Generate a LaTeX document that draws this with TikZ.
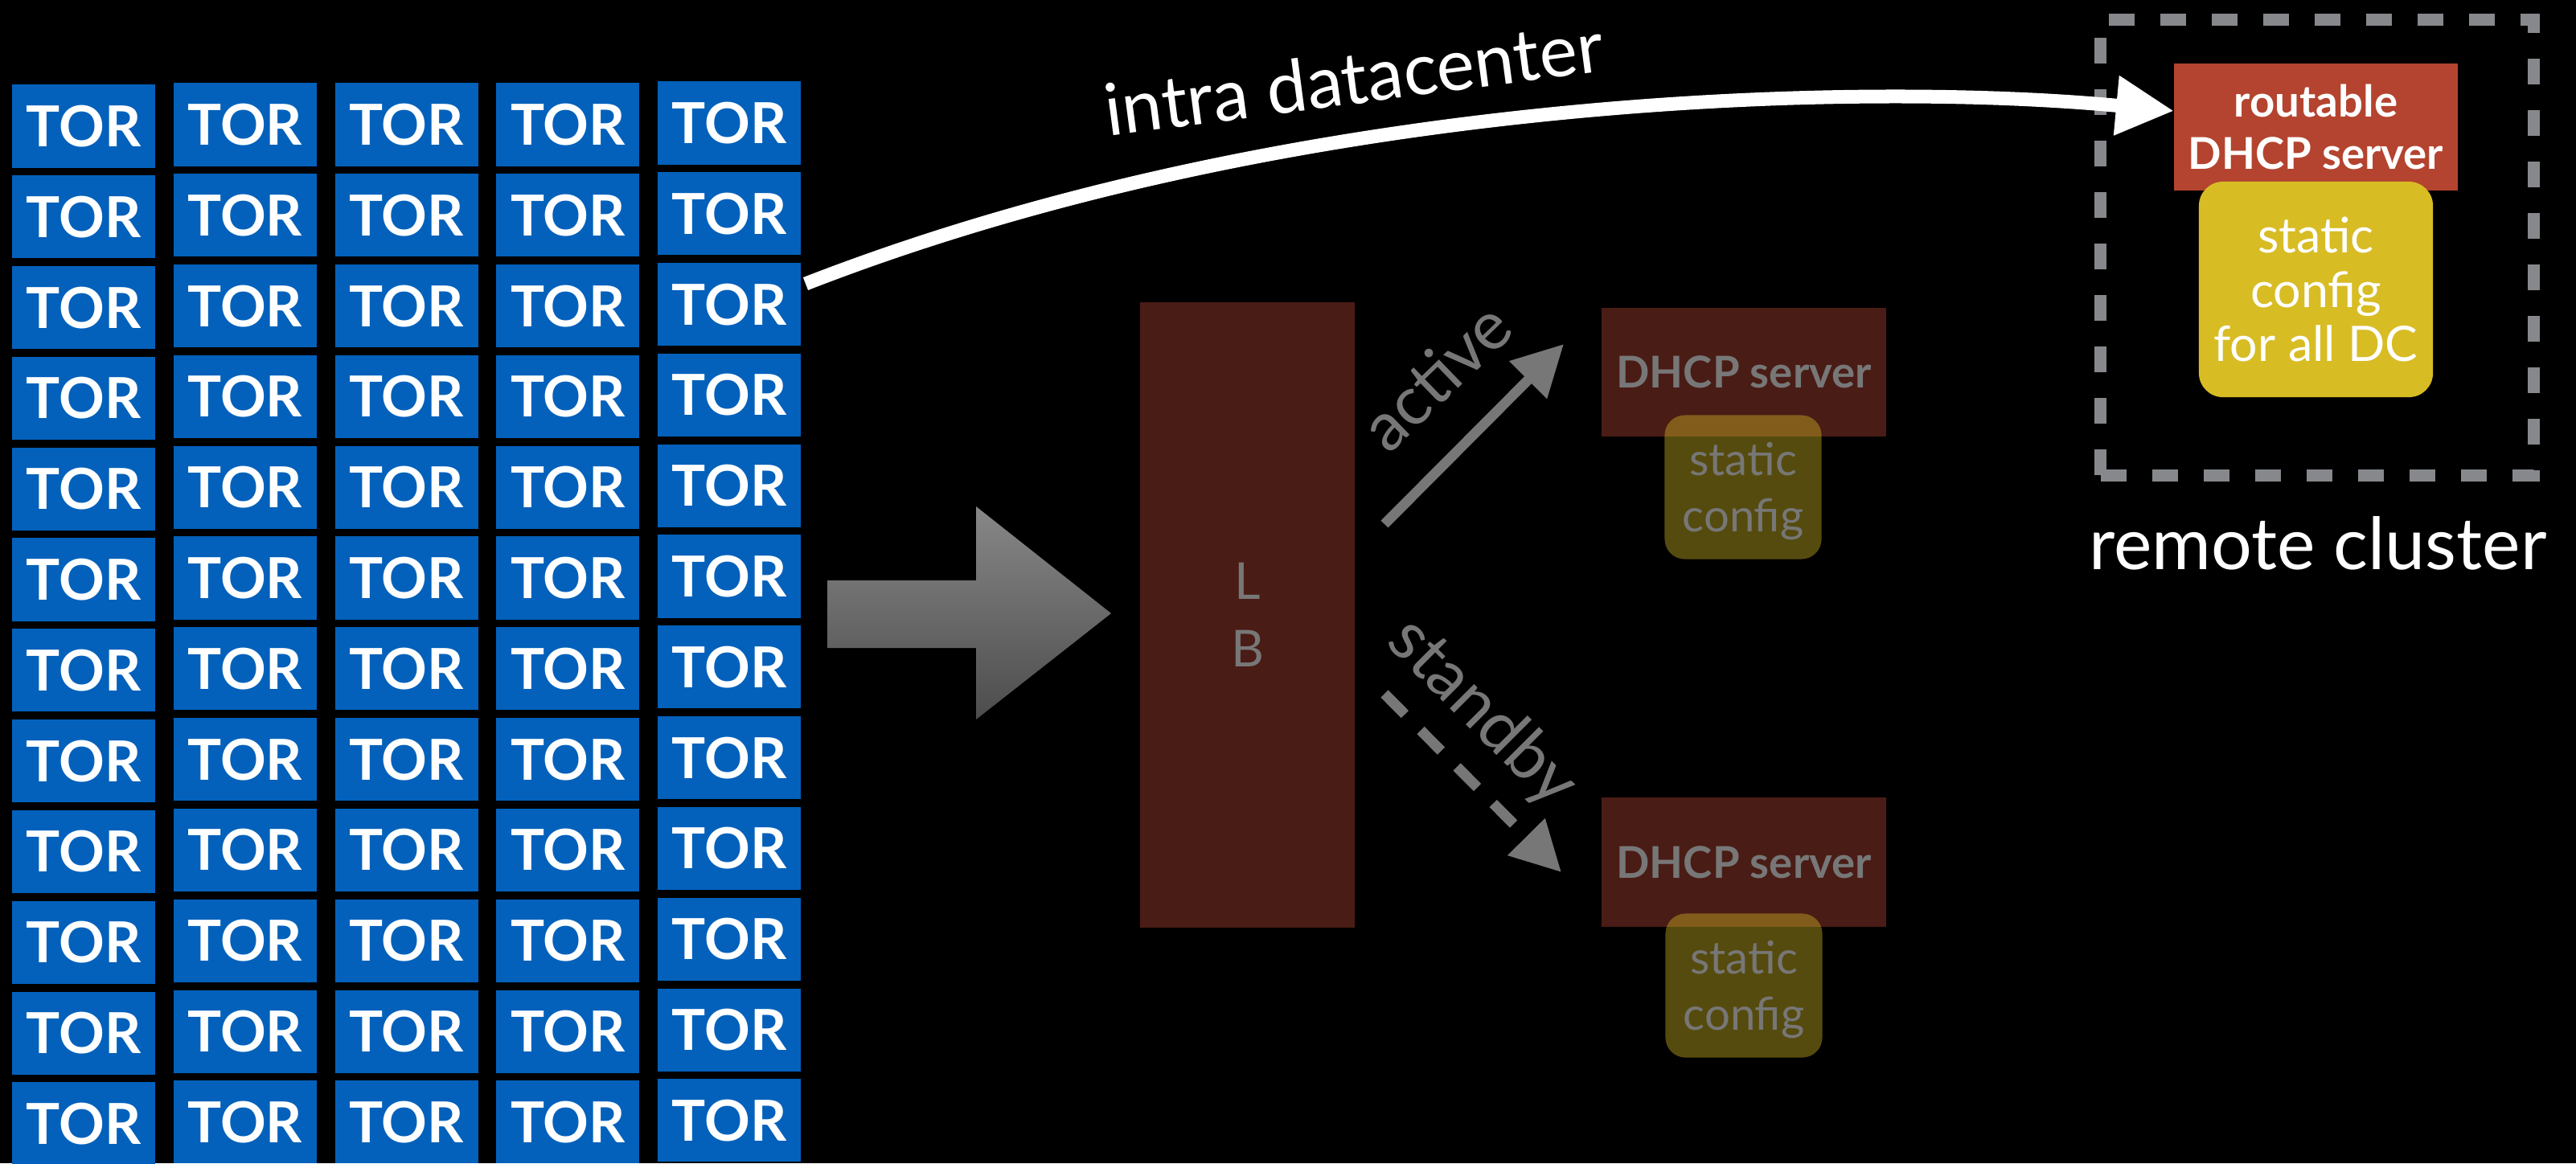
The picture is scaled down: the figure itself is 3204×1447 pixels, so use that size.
\documentclass[tikz,border=0pt]{standalone}
\usepackage{fontspec}
\setmainfont{Lato}
\usetikzlibrary{arrows.meta}
\definecolor{torblue}{HTML}{0361BB}
\definecolor{dimred}{HTML}{4A1C16}
\definecolor{brick}{HTML}{B4442F}
\definecolor{cfgyellow}{HTML}{D8BC24}
\definecolor{dimtext}{HTML}{777777}
\definecolor{dashgray}{HTML}{86888C}
\begin{document}
\begin{tikzpicture}[x=0.01cm,y=-0.01cm,
  torbox/.style={fill=torblue, text=white, font=\bfseries\fontsize{20}{24}\selectfont,
    minimum width=17.8mm, minimum height=10.3mm, inner sep=0pt},
  dimserver/.style={fill=dimred, minimum width=35.4mm, minimum height=16mm, inner sep=0pt,
    text=dimtext, font=\bfseries\fontsize{15.5}{18}\selectfont},
  dimcfg/.style={fill=cfgyellow, fill opacity=0.4, rounded corners=2.5mm,
    minimum width=19.5mm, minimum height=17.9mm, inner sep=0pt},
  dimcfgtext/.style={text=dimtext, align=center, font=\fontsize{16}{19.9}\selectfont},
  lbbox/.style={fill=dimred, minimum width=26.7mm, minimum height=77.7mm, inner sep=0pt,
    text=dimtext, align=center, font=\fontsize{18}{23.9}\selectfont},
  grayarrow/.style={draw=dimtext, line width=1.25mm, -{Triangle[width=6.3mm,length=6.3mm]}},
  standbyarrow/.style={draw=dimtext, line width=1.3mm, dash pattern=on 3.6mm off 2.8mm,
    -{Triangle[width=6.2mm,length=6.2mm]}},
  intraarrow/.style={draw=white, line width=1.7mm, -{Triangle[width=7mm,length=7.2mm]}},
  rotlabel/.style={text=dimtext, font=\fontsize{24}{28}\selectfont, inner sep=0pt},
  bigtext/.style={text=white, font=\fontsize{25.5}{30}\selectfont, inner sep=0pt},
  remotebox/.style={draw=dashgray, line width=1.5mm, dash pattern=on 3.2mm off 3.2mm,
    minimum width=53.8mm, minimum height=56.6mm, inner sep=0pt},
  routable/.style={fill=brick, text=white, align=center, inner sep=0pt,
    minimum width=35.3mm, minimum height=15.8mm, font=\bfseries\fontsize{15.5}{18.5}\selectfont},
  brightcfg/.style={fill=cfgyellow, text=white, align=center, rounded corners=3mm, inner sep=0pt,
    minimum width=29.1mm, minimum height=26.8mm, font=\fontsize{17.3}{19.2}\selectfont}
]
\useasboundingbox (0,0) rectangle (3204,1447);
\fill[black] (0,0) rectangle (3204,1447);

% TOR grid
\foreach \c/\dy in {0/2,1/0,2/0,3/0,4/-2}{
  \foreach \r in {0,...,11}{
    \node[torbox] (tor-\c-\r) at ({104+200.8*\c},{155+\dy+112.8*\r}) {TOR};
  }
}

% big gray block arrow
\shade[top color=black!47!white, bottom color=black!70!white]
  (1029,722) -- (1214,722) -- (1214,630) -- (1382,763) -- (1214,895) -- (1214,806) -- (1029,806) -- cycle;

% load balancer
\node[lbbox] (lb) at (1551.5,765) {L\\B};

% dimmed DHCP servers with static config
\node[dimserver] (dhcp1) at (2169,463) {DHCP server};
\node[dimcfg] (cfg1) at (2168,606) {};
\node[dimcfgtext] (cfg1t) at (2168,611) {static\\config};

\node[dimserver] (dhcp2) at (2169,1072.5) {DHCP server};
\node[dimcfg] (cfg2) at (2169,1226) {};
\node[dimcfgtext] (cfg2t) at (2169,1231) {static\\config};

% active / standby arrows
\coordinate (ac1) at (1722,652);
\coordinate (ac2) at (1945,428);
\draw[grayarrow] (ac1) -- (ac2);
\node[rotlabel, rotate=44] (activelbl) at (1786,468) {active};

\coordinate (sb1) at (1722,863);
\coordinate (sb2) at (1942,1085);
\draw[standbyarrow] (sb1) -- (sb2);
\node[rotlabel, rotate=-45] (standbylbl) at (1843,887) {standby};

% remote cluster
\node[remotebox] (remote) at (2882,308) {};
\node[routable] (rdhcp) at (2880.5,158) {routable\\DHCP server};
\node[brightcfg] (rcfg) at (2880.5,360) {static\\config\\for all DC};
\node[bigtext, anchor=base] (remotelbl) at (2883,708) {remote cluster};

% intra datacenter arrow
\coordinate (ia) at (1002,353);
\coordinate (ib) at (2704,138);
\draw[intraarrow] (ia) .. controls (1600,120) and (2300,100) .. (ib);
\node[bigtext, anchor=base, rotate=7.5] (intralbl) at (1688,129) {intra datacenter};
\end{tikzpicture}
\end{document}
